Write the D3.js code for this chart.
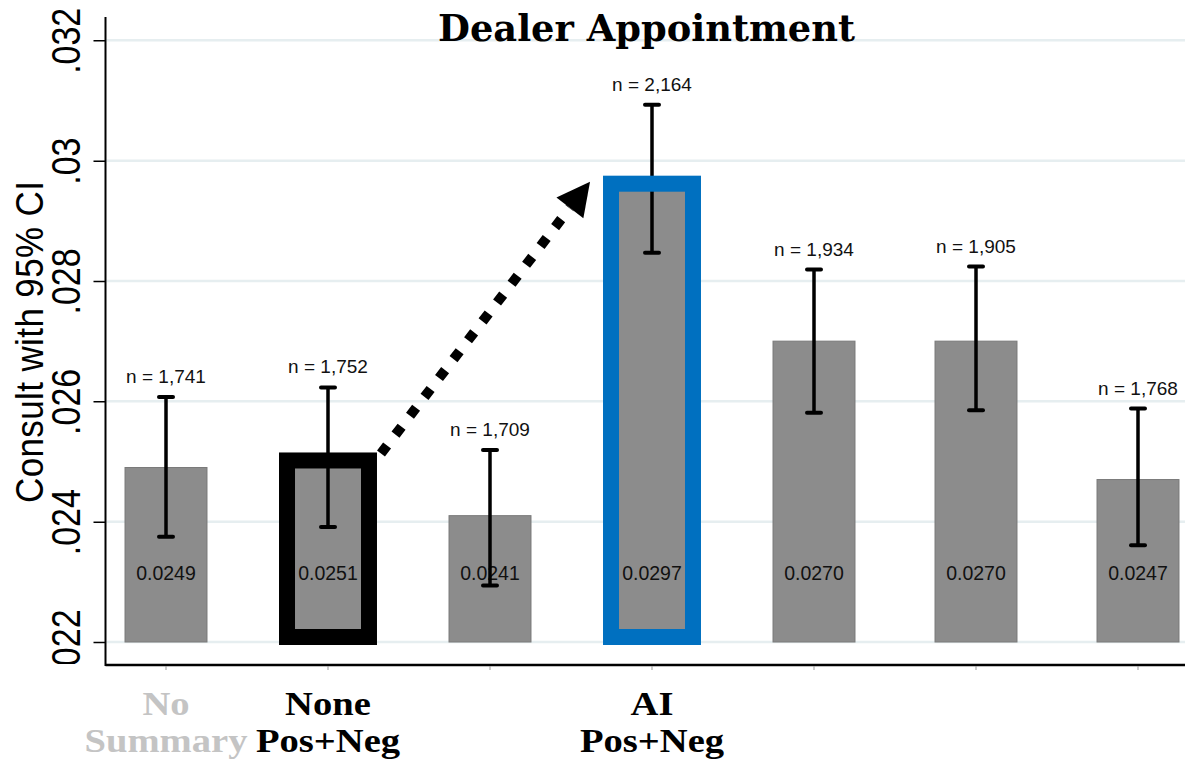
<!DOCTYPE html>
<html>
<head>
<meta charset="utf-8">
<script src="https://cdn.jsdelivr.net/npm/d3@7"></script>
<style>
  html, body { margin: 0; padding: 0; background: #fff; }
  svg { display: block; }
</style>
</head>
<body>
<svg id="chart" width="1185" height="761"></svg>
<script>
// ---- data ----
const arms       = ["No Summary", "None Pos+Neg", "Arm 3", "AI Pos+Neg", "Arm 5", "Arm 6", "Arm 7"];
const means      = [0.0249, 0.0251, 0.0241, 0.0297, 0.0270, 0.0270, 0.0247];
const ciLow      = [0.02375, 0.02391, 0.02294, 0.02847, 0.02581, 0.02585, 0.02361];
const ciHigh     = [0.02607, 0.02623, 0.02519, 0.03093, 0.02819, 0.02824, 0.02588];
const sampleN    = [1741, 1752, 1709, 2164, 1934, 1905, 1768];
const labelLine1 = ["No", "None", "", "AI", "", "", ""];
const labelLine2 = ["Summary", "Pos+Neg", "", "Pos+Neg", "", "", ""];
const yTicks      = [0.022, 0.024, 0.026, 0.028, 0.030, 0.032];
const yTickLabels = [".022", ".024", ".026", ".028", ".03", ".032"];
const highlights  = [{ arm: "None Pos+Neg", color: "#000000" }, { arm: "AI Pos+Neg", color: "#0070c0" }];

const svg = d3.select("#chart");
const W = 1185;

const x = d3.scaleBand().domain(arms).range([85, 1219]).paddingInner(0.494).paddingOuter(0.247);
const y = d3.scaleLinear().domain([0.022, 0.032]).range([642, 40.3]);
const bw = x.bandwidth();
const cx = a => x(a) + bw / 2;

const axisX = 105.5, axisY = 665;
const sans = "'Liberation Sans', Arial, sans-serif";
const serif = "'Liberation Serif', 'Times New Roman', serif";

// gridlines
svg.append("g").selectAll("line").data(yTicks).join("line")
  .attr("x1", axisX + 1).attr("x2", W)
  .attr("y1", d => y(d)).attr("y2", d => y(d))
  .attr("stroke", "#e6eef0").attr("stroke-width", 2.5);

// title
svg.append("text")
  .attr("x", 646.5).attr("y", 41)
  .attr("text-anchor", "middle")
  .attr("font-family", "'DejaVu Serif', Georgia, serif")
  .attr("font-weight", "bold").attr("font-size", 37)
  .attr("textLength", 417).attr("lengthAdjust", "spacingAndGlyphs")
  .text("Dealer Appointment");

// bars
svg.append("g").selectAll("rect").data(arms).join("rect")
  .attr("x", d => x(d)).attr("width", bw)
  .attr("y", (d, i) => y(means[i]))
  .attr("height", (d, i) => y(0.022) - y(means[i]))
  .attr("fill", "#8c8c8c").attr("stroke", "#7a7a7a").attr("stroke-width", 1);

// value labels inside bars
svg.append("g").selectAll("text").data(arms).join("text")
  .attr("x", d => cx(d)).attr("y", y(0.022) - 62)
  .attr("text-anchor", "middle")
  .attr("font-family", sans).attr("font-size", 19.5).attr("fill", "#111")
  .text((d, i) => d3.format(".4f")(means[i]));

// confidence intervals
const ci = svg.append("g").attr("stroke", "#000");
arms.forEach((a, i) => {
  const c = cx(a);
  ci.append("line").attr("x1", c).attr("x2", c)
    .attr("y1", y(ciLow[i])).attr("y2", y(ciHigh[i])).attr("stroke-width", 3.5);
  [ciLow[i], ciHigh[i]].forEach(v => {
    ci.append("line").attr("x1", c - 7).attr("x2", c + 7)
      .attr("y1", y(v)).attr("y2", y(v))
      .attr("stroke-width", 4).attr("stroke-linecap", "round");
  });
});

// sample size labels
svg.append("g").selectAll("text").data(arms).join("text")
  .attr("x", d => cx(d)).attr("y", (d, i) => y(ciHigh[i]) - 14)
  .attr("text-anchor", "middle")
  .attr("font-family", sans).attr("font-size", 19).attr("fill", "#111")
  .text((d, i) => "n = " + d3.format(",")(sampleN[i]));

// highlighted arms
const sw = 16;
svg.append("g").selectAll("rect").data(highlights).join("rect")
  .attr("x", d => x(d.arm) - 8 + sw / 2)
  .attr("width", bw + 16 - sw)
  .attr("y", d => y(means[arms.indexOf(d.arm)]) - 3 + sw / 2)
  .attr("height", d => (y(0.022) + 3) - (y(means[arms.indexOf(d.arm)]) - 3) - sw)
  .attr("fill", "none").attr("stroke", d => d.color).attr("stroke-width", sw);

// arrow from the human summary to the AI summary
const from = { x: x("None Pos+Neg") + bw + 12, y: y(means[1]) - 2 };
const tip  = { x: x("AI Pos+Neg") - 21, y: y(means[3]) + 3 };
const dx = tip.x - from.x, dy = tip.y - from.y, len = Math.hypot(dx, dy);
const ux = dx / len, uy = dy / len;
const headLen = 33, headHalf = 17;
const base = { x: tip.x - ux * headLen, y: tip.y - uy * headLen };
svg.append("line")
  .attr("x1", from.x).attr("y1", from.y).attr("x2", base.x).attr("y2", base.y)
  .attr("stroke", "#000").attr("stroke-width", 10)
  .attr("stroke-dasharray", "10 13.8");
svg.append("path")
  .attr("d", d3.line()([
    [tip.x, tip.y],
    [base.x - uy * headHalf, base.y + ux * headHalf],
    [base.x + uy * headHalf, base.y - ux * headHalf]
  ]) + "Z")
  .attr("fill", "#000");

// y axis
svg.append("defs").append("clipPath").attr("id", "yclip")
  .append("rect").attr("x", 0).attr("y", 0).attr("width", axisX).attr("height", axisY - 1);

const yAxis = d3.axisLeft(y).tickValues(yTicks)
  .tickFormat((d, i) => yTickLabels[i]).tickSize(12).tickSizeOuter(0);
const gy = svg.append("g").attr("transform", `translate(${axisX},0)`).call(yAxis);
gy.select(".domain").remove();
gy.selectAll(".tick line").attr("stroke", "#000").attr("stroke-width", 1.5);
gy.selectAll(".tick text")
  .attr("x", null).attr("dy", null)
  .attr("text-anchor", "middle")
  .attr("font-family", sans).attr("font-size", 34).attr("fill", "#000")
  .attr("transform", `translate(${80 - axisX},0) rotate(-90) scale(1,1.22)`);
svg.append("g").attr("clip-path", "url(#yclip)").node().appendChild(gy.node());

svg.append("line").attr("x1", axisX).attr("x2", axisX).attr("y1", 17).attr("y2", axisY + 1)
  .attr("stroke", "#000").attr("stroke-width", 2);

// y axis title
svg.append("text")
  .attr("transform", `translate(43,342) rotate(-90) scale(1,1.12)`)
  .attr("text-anchor", "middle")
  .attr("font-family", sans).attr("font-size", 35).attr("fill", "#000")
  .attr("textLength", 322).attr("lengthAdjust", "spacing")
  .text("Consult with 95% CI");

// x axis
svg.append("line").attr("x1", axisX).attr("x2", W).attr("y1", axisY).attr("y2", axisY)
  .attr("stroke", "#000").attr("stroke-width", 2.5);
svg.append("g").selectAll("line").data(arms).join("line")
  .attr("x1", d => cx(d)).attr("x2", d => cx(d))
  .attr("y1", axisY + 1).attr("y2", axisY + 5)
  .attr("stroke", "#999").attr("stroke-width", 1);

// category labels
const cat = svg.append("g")
  .attr("font-family", serif).attr("font-weight", "bold").attr("font-size", 33)
  .attr("text-anchor", "middle");
arms.forEach((a, i) => {
  const color = i === 0 ? "#c4c4c4" : "#000";
  [[labelLine1[i], 715], [labelLine2[i], 752]].forEach(([t, yy]) => {
    if (!t) return;
    cat.append("text")
      .attr("transform", `translate(${cx(a)},${yy}) scale(1.17,1)`)
      .attr("fill", color).text(t);
  });
});
</script>
</body>
</html>
